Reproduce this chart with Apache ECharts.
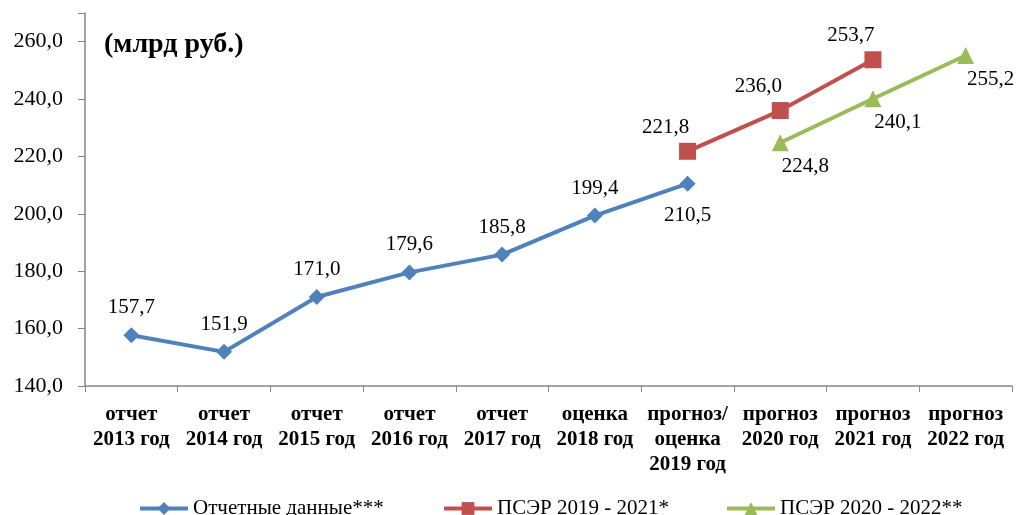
<!DOCTYPE html>
<html>
<head>
<meta charset="utf-8">
<script src="https://cdn.jsdelivr.net/npm/echarts@6/dist/echarts.min.js"></script>
<style>
  html, body { margin: 0; padding: 0; background: #fff; }
  #chart { width: 1024px; height: 515px; }
</style>
</head>
<body>
<div id="chart"></div>
<script>
const categories = [
  'отчет\n2013 год', 'отчет\n2014 год', 'отчет\n2015 год', 'отчет\n2016 год',
  'отчет\n2017 год', 'оценка\n2018 год', 'прогноз/\nоценка\n2019 год',
  'прогноз\n2020 год', 'прогноз\n2021 год', 'прогноз\n2022 год'
];
const reportData = [157.7, 151.9, 171.0, 179.6, 185.8, 199.4, 210.5, null, null, null];
const pser2019 = [null, null, null, null, null, null, 221.8, 236.0, 253.7, null];
const pser2020 = [null, null, null, null, null, null, null, 224.8, 240.1, 255.2];
const seriesNames = ['Отчетные данные***', 'ПСЭР 2019 - 2021*', 'ПСЭР 2020 - 2022**'];
const yTicks = [140, 160, 180, 200, 220, 240, 260];

const serif = '"Liberation Serif", "Times New Roman", serif';
const fmt = v => v.toFixed(1).replace('.', ',');

const chart = echarts.init(document.getElementById('chart'));

const labelBase = {
  show: true,
  fontFamily: serif,
  fontSize: 21,
  color: '#000',
  formatter: p => fmt(p.value)
};

const legendText = { fontFamily: serif, fontSize: 21, color: '#000' };
const legendAt = (name, left) => ({
  data: [name],
  left: left,
  top: 493,
  itemWidth: 48,
  itemHeight: 16,
  itemGap: 4,
  lineStyle: { width: 4 },
  textStyle: legendText
});

const option = {
  animation: false,
  textStyle: { fontFamily: serif },
  title: {
    text: '(млрд руб.)',
    left: 99,
    top: 26,
    textStyle: { fontFamily: serif, fontSize: 28, fontWeight: 'bold', color: '#000' }
  },
  legend: [
    legendAt(seriesNames[0], 133),
    legendAt(seriesNames[1], 437),
    legendAt(seriesNames[2], 720)
  ],
  grid: { left: 85, right: 12, top: 13, bottom: 129 },
  xAxis: {
    type: 'category',
    data: categories,
    boundaryGap: true,
    axisLine: { lineStyle: { color: '#868686', width: 1.5 } },
    axisTick: { show: true, length: 6, lineStyle: { color: '#868686' } },
    axisLabel: {
      interval: 0,
      margin: 16,
      fontFamily: serif,
      fontSize: 21,
      fontWeight: 'bold',
      color: '#000',
      lineHeight: 25
    }
  },
  yAxis: {
    type: 'value',
    min: 140,
    max: 270,
    interval: 20,
    splitLine: { show: false },
    axisLine: { show: true, lineStyle: { color: '#868686', width: 1.5 } },
    axisTick: { show: true, length: 7, lineStyle: { color: '#868686' } },
    axisLabel: {
      fontFamily: serif,
      fontSize: 22,
      color: '#000',
      margin: 22,
      formatter: v => yTicks.includes(v) ? fmt(v) : ''
    }
  },
  series: [
    {
      name: seriesNames[0],
      type: 'line',
      data: reportData.map((v, i) => i === 6
        ? { value: v, label: { position: 'bottom', distance: 13 } }
        : v),
      symbol: 'diamond',
      symbolSize: 16,
      lineStyle: { color: '#4F81BD', width: 4 },
      itemStyle: { color: '#4F81BD' },
      label: Object.assign({}, labelBase, { position: 'top', distance: 9 })
    },
    {
      name: seriesNames[1],
      type: 'line',
      data: pser2019,
      symbol: 'rect',
      symbolSize: 17,
      lineStyle: { color: '#C0504D', width: 4 },
      itemStyle: { color: '#C0504D' },
      label: Object.assign({}, labelBase, { position: 'inside', offset: [-22, -24] })
    },
    {
      name: seriesNames[2],
      type: 'line',
      data: pser2020,
      symbol: 'triangle',
      symbolSize: 17,
      lineStyle: { color: '#9BBB59', width: 4 },
      itemStyle: { color: '#9BBB59' },
      label: Object.assign({}, labelBase, { position: 'inside', offset: [25, 24] })
    }
  ]
};

chart.setOption(option);
</script>
</body>
</html>
